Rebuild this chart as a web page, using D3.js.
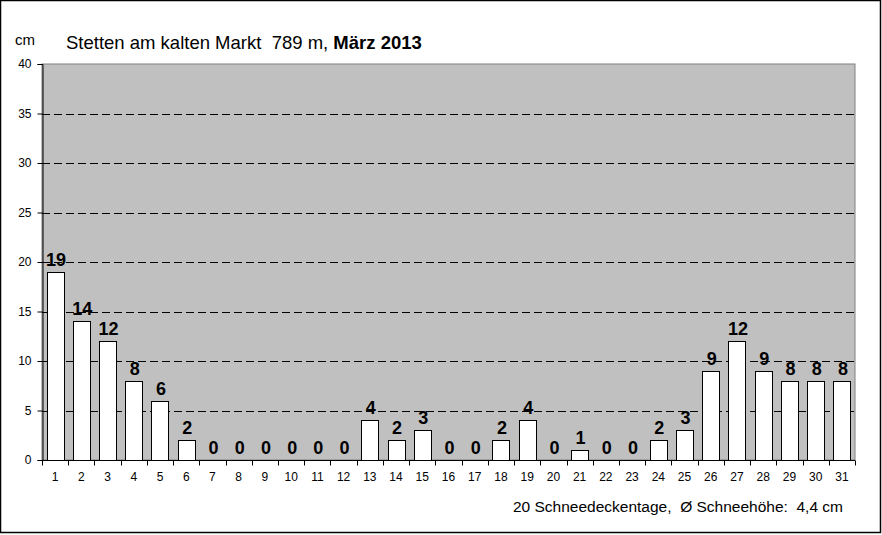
<!DOCTYPE html>
<html>
<head>
<meta charset="utf-8">
<script src="https://cdn.jsdelivr.net/npm/d3@7"></script>
<style>
  body { margin: 0; background: #fff; }
  text { font-family: Arial, "Liberation Sans", sans-serif; }
</style>
</head>
<body>
<div id="chart"></div>
<script>
// Snow depth per day, March 2013
var days = d3.range(1, 32).map(String);
var snow = [19, 14, 12, 8, 6, 2, 0, 0, 0, 0, 0, 0, 4, 2, 3, 0, 0, 2, 4, 0, 1, 0, 0, 2, 3, 9, 12, 9, 8, 8, 8];
var yTicks = [0, 5, 10, 15, 20, 25, 30, 35, 40];

var width = 882, height = 535;
var plotLeft = 42, plotRight = 855, plotTop = 64, plotBottom = 460;

var rows = days.map(function(d, i) { return { day: d, value: snow[i] }; });

var svg = d3.select("#chart").append("svg")
  .attr("width", width)
  .attr("height", height);

// outer frame
svg.append("rect")
  .attr("x", 0.5).attr("y", 0.5)
  .attr("width", 880).attr("height", 532)
  .attr("fill", "#fff")
  .attr("stroke", "#000")
  .attr("stroke-width", 1.5);

var x = d3.scaleBand().domain(days).range([plotLeft, plotRight]).paddingInner(0.35).paddingOuter(0.175);
var xb = d3.scaleBand().domain(days).range([plotLeft, plotRight]);
var y = d3.scaleLinear().domain([0, 40]).range([plotBottom, plotTop]);

// plot background
svg.append("rect")
  .attr("x", plotLeft).attr("y", plotTop)
  .attr("width", plotRight - plotLeft).attr("height", plotBottom - plotTop)
  .attr("fill", "#c0c0c0")
  .attr("stroke", "#808080");

// dashed gridlines
svg.selectAll("line.grid").data(yTicks.filter(function(d) { return d > 0 && d < 40; }))
  .enter().append("line")
  .attr("class", "grid")
  .attr("x1", plotLeft).attr("x2", plotRight)
  .attr("y1", function(d) { return Math.round(y(d)) + 0.5; })
  .attr("y2", function(d) { return Math.round(y(d)) + 0.5; })
  .attr("stroke", "#000")
  .attr("stroke-dasharray", "8,4");

// bars (days without snow get no bar)
svg.selectAll("rect.bar").data(rows.filter(function(d) { return d.value > 0; }))
  .enter().append("rect")
  .attr("class", "bar")
  .attr("x", function(d) { return Math.round(x(d.day)) + 0.5; })
  .attr("y", function(d) { return Math.round(y(d.value)) + 0.5; })
  .attr("width", Math.round(x.bandwidth()))
  .attr("height", function(d) { return y(0) - Math.round(y(d.value)); })
  .attr("fill", "#fff")
  .attr("stroke", "#000");

// value labels
svg.selectAll("text.val").data(rows)
  .enter().append("text")
  .attr("class", "val")
  .attr("x", function(d) { return x(d.day) + x.bandwidth() / 2 + 1; })
  .attr("y", function(d) { return y(d.value) - 6; })
  .attr("text-anchor", "middle")
  .attr("font-size", 18)
  .attr("font-weight", "bold")
  .text(function(d) { return d.value; });

// y axis
var yAxis = svg.append("g")
  .attr("transform", "translate(" + (plotLeft + 0.5) + ",0)")
  .call(d3.axisLeft(y).tickValues(yTicks).tickSize(5).tickPadding(6));
yAxis.select(".domain").attr("stroke", "#000");
yAxis.selectAll("text").attr("font-size", 12).attr("font-family", "Arial, 'Liberation Sans', sans-serif");

// x axis (ticks at band boundaries)
var xAxis = svg.append("g")
  .attr("transform", "translate(0," + (plotBottom + 0.5) + ")");
xAxis.append("line")
  .attr("x1", plotLeft).attr("x2", plotRight)
  .attr("stroke", "#000");
xAxis.selectAll("line.tick").data(d3.range(0, 32))
  .enter().append("line")
  .attr("class", "tick")
  .attr("x1", function(i) { return Math.round(plotLeft + i * xb.step()) + 0.5; })
  .attr("x2", function(i) { return Math.round(plotLeft + i * xb.step()) + 0.5; })
  .attr("y1", 0).attr("y2", 5)
  .attr("stroke", "#000");
xAxis.selectAll("text.lbl").data(days)
  .enter().append("text")
  .attr("class", "lbl")
  .attr("x", function(d) { return xb(d) + xb.bandwidth() / 2; })
  .attr("y", 20)
  .attr("text-anchor", "middle")
  .attr("font-size", 12)
  .text(function(d) { return d; });

// title and labels
svg.append("text")
  .attr("x", 15).attr("y", 45)
  .attr("font-size", 15)
  .text("cm");

var title = svg.append("text")
  .attr("x", 66).attr("y", 49)
  .attr("font-size", 18.5)
  .style("white-space", "pre");
title.append("tspan").text("Stetten am kalten Markt  789 m, ");
title.append("tspan").attr("font-weight", "bold").text("März 2013");

svg.append("text")
  .attr("x", 843).attr("y", 512)
  .attr("text-anchor", "end")
  .attr("font-size", 15.5)
  .style("white-space", "pre")
  .text("20 Schneedeckentage,  Ø Schneehöhe:  4,4 cm");
</script>
</body>
</html>
